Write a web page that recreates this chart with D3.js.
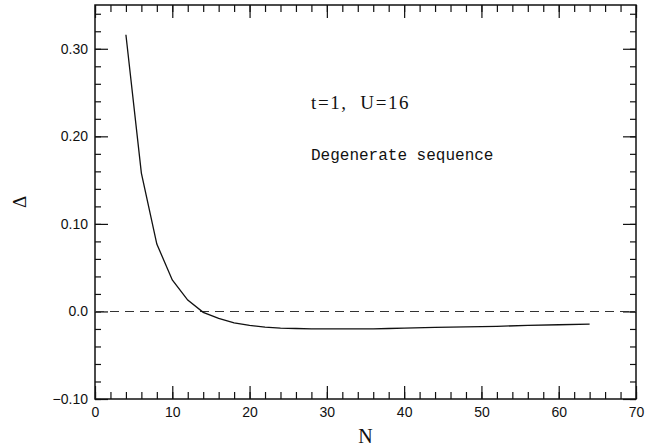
<!DOCTYPE html>
<html>
<head>
<meta charset="utf-8">
<script src="https://cdn.jsdelivr.net/npm/d3@7"></script>
<style>
  body { margin: 0; background: #fff; }
  svg { display: block; }
</style>
</head>
<body>
<svg id="drawing_region"></svg>
<script>
// N values and gap Δ
const nValues = [4, 6, 8, 10, 12, 14, 16, 18, 20, 22, 24, 26, 28, 30, 32, 34, 36, 38, 40, 44, 48, 52, 56, 60, 64];
const deltaValues = [0.316, 0.158, 0.077, 0.036, 0.013, -0.001, -0.008, -0.013, -0.016, -0.018, -0.019, -0.0195, -0.020, -0.020, -0.020, -0.020, -0.0198, -0.0195, -0.019, -0.0183, -0.0177, -0.017, -0.016, -0.0152, -0.0145];

const xTicks = [0, 10, 20, 30, 40, 50, 60, 70];
const yTicks = [-0.10, 0.0, 0.10, 0.20, 0.30];
const yTickLabels = ["\u22120.10", "0.0", "0.10", "0.20", "0.30"];

const config = {
    width: 650,
    height: 448,
    margin: { top: 5, right: 14, bottom: 49, left: 95 }
};

const svg = d3.select("#drawing_region")
    .attr("width", config.width)
    .attr("height", config.height);

const inner_width = config.width - config.margin.left - config.margin.right;
const inner_height = config.height - config.margin.top - config.margin.bottom;

const chart = svg.append("g")
    .attr("transform", `translate(${config.margin.left}, ${config.margin.top})`);

const xscale = d3.scaleLinear().domain([0, 70]).range([0, inner_width]);
const yscale = d3.scaleLinear().domain([-0.10, 0.35]).range([inner_height, 0]);

const minorX = d3.range(0, 70.001, 2);
const minorY = d3.range(-0.10, 0.3501, 0.02);

function styleAxis(g) {
    g.select(".domain").remove();
    g.selectAll("line").attr("stroke", "#111").attr("stroke-width", 1.2);
    g.selectAll("text")
        .attr("fill", "#111")
        .style("font-family", "'Liberation Sans', Arial, sans-serif")
        .style("font-size", "14px");
}

// bottom
chart.append("g").attr("transform", `translate(0, ${inner_height})`)
    .call(d3.axisBottom(xscale).tickValues(minorX).tickSize(-7).tickFormat(""))
    .call(styleAxis);
chart.append("g").attr("transform", `translate(0, ${inner_height})`)
    .call(d3.axisBottom(xscale).tickValues(xTicks).tickSize(-13).tickPadding(8).tickFormat(d3.format("d")))
    .call(styleAxis);
// top
chart.append("g")
    .call(d3.axisTop(xscale).tickValues(minorX).tickSize(-7).tickFormat(""))
    .call(styleAxis);
chart.append("g")
    .call(d3.axisTop(xscale).tickValues(xTicks).tickSize(-13).tickFormat(""))
    .call(styleAxis);
// left
chart.append("g")
    .call(d3.axisLeft(yscale).tickValues(minorY).tickSize(-6).tickFormat(""))
    .call(styleAxis);
chart.append("g")
    .call(d3.axisLeft(yscale).tickValues(yTicks).tickSize(-13).tickPadding(7)
        .tickFormat((d, i) => yTickLabels[i]))
    .call(styleAxis);
// right
chart.append("g").attr("transform", `translate(${inner_width}, 0)`)
    .call(d3.axisRight(yscale).tickValues(minorY).tickSize(-6).tickFormat(""))
    .call(styleAxis);
chart.append("g").attr("transform", `translate(${inner_width}, 0)`)
    .call(d3.axisRight(yscale).tickValues(yTicks).tickSize(-13).tickFormat(""))
    .call(styleAxis);

// frame
chart.append("rect")
    .attr("x", 0).attr("y", 0)
    .attr("width", inner_width).attr("height", inner_height)
    .attr("fill", "none")
    .attr("stroke", "#111")
    .attr("stroke-width", 1.5);

// zero line
chart.append("line")
    .attr("x1", 0).attr("x2", inner_width)
    .attr("y1", yscale(0)).attr("y2", yscale(0))
    .attr("stroke", "#333")
    .attr("stroke-width", 1.1)
    .attr("stroke-dasharray", "9,6");

// curve
const data = nValues.map((n, i) => ({ x: n, y: deltaValues[i] }));
const line = d3.line()
    .x(d => xscale(d.x))
    .y(d => yscale(d.y));

chart.append("path")
    .datum(data)
    .attr("d", line)
    .attr("fill", "none")
    .attr("stroke", "#111")
    .attr("stroke-width", 1.3);

// annotations
chart.append("text")
    .attr("x", 216).attr("y", 104)
    .style("font-family", "'Liberation Serif', 'DejaVu Serif', serif")
    .style("font-size", "19px")
    .style("letter-spacing", "1.6px")
    .attr("fill", "#111")
    .attr("xml:space", "preserve")
    .text("t=1,  U=16");

chart.append("text")
    .attr("x", 216).attr("y", 155)
    .style("font-family", "'Liberation Mono', 'DejaVu Sans Mono', monospace")
    .style("font-size", "16px")
    .attr("fill", "#111")
    .text("Degenerate sequence");

// axis titles
svg.append("text")
    .attr("x", config.margin.left + inner_width / 2)
    .attr("y", 443)
    .attr("text-anchor", "middle")
    .style("font-family", "'Liberation Serif', 'DejaVu Serif', serif")
    .style("font-size", "20px")
    .attr("fill", "#111")
    .text("N");

svg.append("text")
    .attr("transform", `translate(26, ${config.margin.top + inner_height / 2}) rotate(-90)`)
    .attr("text-anchor", "middle")
    .style("font-family", "'Liberation Serif', 'DejaVu Serif', serif")
    .style("font-size", "19px")
    .attr("fill", "#111")
    .text("\u0394");
</script>
</body>
</html>
